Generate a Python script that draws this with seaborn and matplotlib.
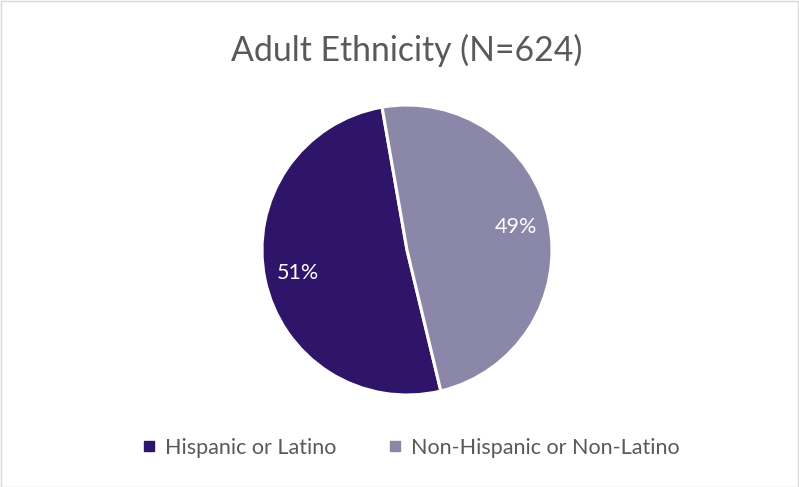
import matplotlib
matplotlib.use("Agg")
import matplotlib.pyplot as plt
from matplotlib.patches import Rectangle
from matplotlib.lines import Line2D
import seaborn as sns

categories = ["Hispanic or Latino", "Non-Hispanic or Non-Latino"]
percentages = [51, 49]
colors = ["#2E1569", "#8B87A9"]
title = "Adult Ethnicity (N=624)"

sns.set_theme(style="white")
plt.rcParams["font.family"] = ["Lato", "DejaVu Sans"]

W, H = 799, 487
fig = plt.figure(figsize=(W / 100, H / 100), dpi=100)
fig.patch.set_facecolor("white")

# chart frame
fig.add_artist(Rectangle((0.5 / W, 0.5 / H), 1 - 1.5 / W, 1 - 1.5 / H,
                         transform=fig.transFigure, fill=False,
                         edgecolor="#D9D9D9", linewidth=1))

cx, cy, r = 407, 250, 145
ax = fig.add_axes([(cx - r) / W, (H - cy - r) / H, 2 * r / W, 2 * r / H])
wedges, texts, autotexts = ax.pie(
    percentages, colors=colors, startangle=-76.5, counterclock=False,
    autopct=lambda p: f"{p:.0f}%", pctdistance=0.77,
    wedgeprops=dict(edgecolor="white", linewidth=2.2),
    textprops=dict(color="white", fontsize=15.5),
)
ax.set_aspect("equal")
ax.set_xlim(-1.0, 1.0)
ax.set_ylim(-1.0, 1.0)
ax.axis("off")

fig.text(407 / W, 1 - 50 / H, title, ha="center", va="center",
         fontsize=24.3, color="#595959")

handles = [Line2D([0], [0], marker="s", linestyle="none", markersize=7,
                  markerfacecolor=c, markeredgecolor=c) for c in colors]
fig.legend(handles, categories, loc="center", bbox_to_anchor=(411 / W, 1 - 448 / H),
           ncol=2, frameon=False, fontsize=15.5, handlelength=0.6,
           handletextpad=0.45, columnspacing=2.4, labelcolor="#595959")

fig.savefig("out.png", dpi=100, facecolor="white")
